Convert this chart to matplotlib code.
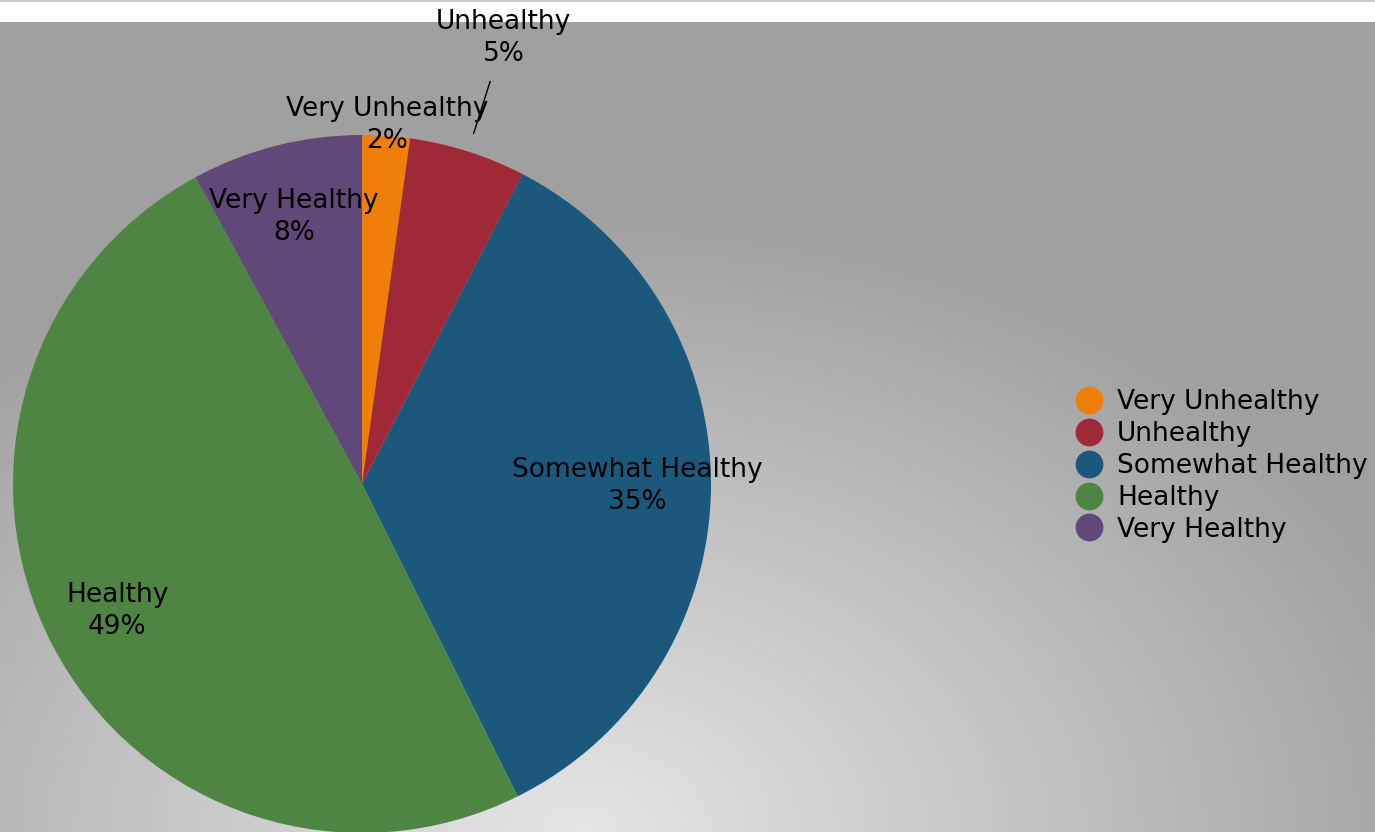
import numpy as np
import matplotlib
matplotlib.use("Agg")
import matplotlib.pyplot as plt
from matplotlib.lines import Line2D
from matplotlib.patches import Rectangle

# data
categories = ["Very Unhealthy", "Unhealthy", "Somewhat Healthy", "Healthy", "Very Healthy"]
shares = [2.2, 5.4, 35.0, 49.4, 7.9]
colors = ["#f07f09", "#9f2936", "#1b587c", "#4e8542", "#604878"]
# radial position of each label (fraction of radius)
label_r = [1.03, 1.34, 0.79, 0.79, 0.79]

W, H = 1375, 832
TOP = 22          # white strip at the top
FS = 19

fig = plt.figure(figsize=(W / 100, H / 100), dpi=100, facecolor="white")

# background panel with radial gradient
bg = fig.add_axes([0, 0, 1, (H - TOP) / H])
yy, xx = np.mgrid[TOP:H, 0:W]
d = np.sqrt(((xx - 580) / 900.0) ** 2 + ((yy - 830) / 620.0) ** 2)
d = np.clip(d, 0, 1)
shade = (229 - d * (229 - 160)) / 255.0
bg.imshow(shade, cmap="gray", vmin=0, vmax=1, aspect="auto",
          extent=[0, W, H - TOP, 0], interpolation="bilinear")
bg.set_axis_off()

fig.add_artist(Rectangle((0, 1 - 2 / H), 1, 2 / H, transform=fig.transFigure,
                         color="#c8c8c8", lw=0))

ax = fig.add_axes([0, 0, 1, 1])
ax.patch.set_alpha(0)
cx, cy, R = 362, H - 484, 349
wedges, _ = ax.pie(shares, colors=colors, startangle=90, counterclock=False,
                   center=(cx, cy), radius=R,
                   wedgeprops=dict(linewidth=0))
ax.set_xlim(0, W)
ax.set_ylim(0, H)
ax.set_aspect("equal")
ax.set_axis_off()

total = sum(shares)
for w, name, val, lr in zip(wedges, categories, shares, label_r):
    mid = np.deg2rad((w.theta1 + w.theta2) / 2)
    ux, uy = np.cos(mid), np.sin(mid)
    ax.text(cx + lr * R * ux, cy + lr * R * uy,
            f"{name}\n{round(val / total * 100)}%",
            ha="center", va="center", multialignment="center",
            fontsize=FS, color="black", linespacing=1.3)
    if lr > 1.2:
        ax.plot([cx + 1.055 * R * ux, cx + 1.21 * R * ux],
                [cy + 1.055 * R * uy, cy + 1.21 * R * uy],
                color="black", lw=1)

handles = [Line2D([], [], marker="o", ls="", markersize=19,
                  markerfacecolor=c, markeredgecolor=c) for c in colors]
fig.legend(handles, categories, loc="center left",
           bbox_to_anchor=(1076 / W, 1 - 466 / H), frameon=False,
           fontsize=FS, handletextpad=0.55, labelspacing=0.22,
           handlelength=1.0, borderpad=0, borderaxespad=0)

fig.savefig("out.png", dpi=100, facecolor="white")
